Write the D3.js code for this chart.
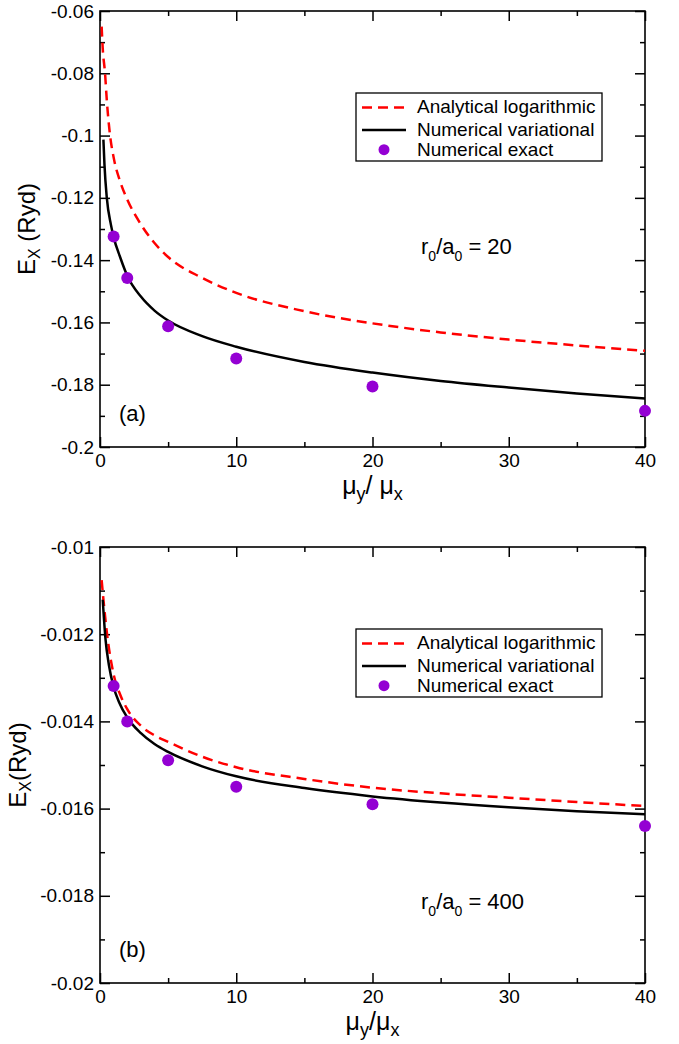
<!DOCTYPE html>
<html>
<head>
<meta charset="utf-8">
<script src="https://cdn.jsdelivr.net/npm/d3@7"></script>
<style>
  body { margin: 0; background: #fff; }
  text { font-family: "Liberation Sans", Arial, Helvetica, sans-serif; fill: #000; }
</style>
</head>
<body>
<svg id="chart" width="679" height="1044"></svg>
<script>
// ---- shared x axis (mu_y / mu_x) ----
const xMajor = [0, 10, 20, 30, 40];
const xMinor = [5, 15, 25, 35];

// ---- panel (a): r0/a0 = 20 ----
const yMajorA = [-0.2, -0.18, -0.16, -0.14, -0.12, -0.1, -0.08, -0.06];
const yLabelsA = ["-0.2", "-0.18", "-0.16", "-0.14", "-0.12", "-0.1", "-0.08", "-0.06"];
const yMinorA = [-0.19, -0.17, -0.15, -0.13, -0.11, -0.09, -0.07];

const exactX = [1, 2, 5, 10, 20, 40];
const exactA = [-0.1324, -0.1457, -0.1612, -0.1716, -0.1806, -0.1884];

const variationalXA = [0.25, 0.33, 0.5, 0.8, 1, 1.5, 2, 3, 4, 5, 7.5, 10, 15, 20, 25, 30, 35, 40];
const variationalA = [-0.1013, -0.1095, -0.1200, -0.1286, -0.1326, -0.1393, -0.1450, -0.1517, -0.1562,
  -0.1594, -0.1644, -0.1678, -0.1727, -0.1761, -0.1788, -0.1809, -0.1828, -0.1844];

const analyticXA = [0.12, 0.2, 0.37, 0.5, 0.74, 1, 1.5, 2, 3, 4, 5, 7.5, 10, 15, 20, 25, 30, 35, 40];
const analyticA = [-0.065, -0.072, -0.080, -0.0887, -0.100, -0.107, -0.1150, -0.1205, -0.1285, -0.1345,
  -0.1390, -0.1457, -0.1505, -0.1564, -0.1603, -0.1632, -0.1655, -0.1674, -0.1691];

// ---- panel (b): r0/a0 = 400 ----
const yMajorB = [-0.02, -0.018, -0.016, -0.014, -0.012, -0.01];
const yLabelsB = ["-0.02", "-0.018", "-0.016", "-0.014", "-0.012", "-0.01"];
const yMinorB = [-0.019, -0.017, -0.015, -0.013, -0.011];

const exactB = [-0.01319, -0.01400, -0.01489, -0.01550, -0.01590, -0.01640];

const variationalXB = [0.2, 0.4, 0.65, 1, 1.4, 2, 3, 4, 5, 7.5, 10, 15, 20, 25, 30, 35, 40];
const variationalB = [-0.01121, -0.01210, -0.01270, -0.01321, -0.01356, -0.01391, -0.01427, -0.01452,
  -0.01470, -0.01503, -0.01526, -0.01553, -0.01572, -0.01586, -0.01597, -0.01606, -0.01613];

const analyticXB = [0.12, 0.25, 0.5, 1, 1.5, 2, 3, 4, 5, 7.5, 10, 15, 20, 25, 30, 35, 40];
const analyticB = [-0.01076, -0.01120, -0.01195, -0.01292, -0.01340, -0.01372, -0.01410, -0.01432,
  -0.01447, -0.01481, -0.01505, -0.01532, -0.01552, -0.01565, -0.01575, -0.01585, -0.01594];

const legendLabels = ["Analytical logarithmic", "Numerical variational", "Numerical exact"];

const RED = "#ff0000";
const VIOLET = "#9400d3";

const svg = d3.select("#chart");

const panels = [
  {
    top: 11, bottom: 447, yDomain: [-0.2, -0.06],
    yMajor: yMajorA, yLabels: yLabelsA, yMinor: yMinorA,
    exact: exactA, varX: variationalXA, varY: variationalA, anaX: analyticXA, anaY: analyticA,
    tag: "(a)", ratio: "20", ratioBaseline: 254, yTitleSep: " ", yTitleX: 35, xTitleSep: "/ "
  },
  {
    top: 547, bottom: 983, yDomain: [-0.02, -0.01],
    yMajor: yMajorB, yLabels: yLabelsB, yMinor: yMinorB,
    exact: exactB, varX: variationalXB, varY: variationalB, anaX: analyticXB, anaY: analyticB,
    tag: "(b)", ratio: "400", ratioBaseline: 909, yTitleSep: "", yTitleX: 26, xTitleSep: "/"
  }
];

const left = 100, right = 645;

panels.forEach(p => {
  const x = d3.scaleLinear().domain([0, 40]).range([left, right]);
  const y = d3.scaleLinear().domain(p.yDomain).range([p.bottom, p.top]);
  const g = svg.append("g");

  // frame
  g.append("rect")
    .attr("x", left).attr("y", p.top)
    .attr("width", right - left).attr("height", p.bottom - p.top)
    .attr("fill", "none").attr("stroke", "#000").attr("stroke-width", 1.6);

  const styleAxis = sel => {
    sel.select(".domain").remove();
    sel.selectAll(".tick line").attr("stroke", "#000").attr("stroke-width", 1.5);
    sel.selectAll(".tick text").attr("font-size", 19)
      .style("font-family", '"Liberation Sans", Arial, sans-serif');
  };

  // bottom axis with labels, ticks pointing inward
  g.append("g").attr("transform", `translate(0,${p.bottom})`)
    .call(d3.axisBottom(x).tickValues(xMajor).tickSizeInner(-10).tickSizeOuter(0).tickPadding(7)
      .tickFormat(d3.format("d")))
    .call(styleAxis);
  g.append("g").attr("transform", `translate(0,${p.bottom})`)
    .call(d3.axisBottom(x).tickValues(xMinor).tickSizeInner(-5).tickSizeOuter(0).tickFormat(""))
    .call(styleAxis);
  // top mirror ticks
  g.append("g").attr("transform", `translate(0,${p.top})`)
    .call(d3.axisTop(x).tickValues(xMajor).tickSizeInner(-10).tickSizeOuter(0).tickFormat(""))
    .call(styleAxis);
  g.append("g").attr("transform", `translate(0,${p.top})`)
    .call(d3.axisTop(x).tickValues(xMinor).tickSizeInner(-5).tickSizeOuter(0).tickFormat(""))
    .call(styleAxis);

  // left axis with labels
  g.append("g").attr("transform", `translate(${left},0)`)
    .call(d3.axisLeft(y).tickValues(p.yMajor).tickSizeInner(-10).tickSizeOuter(0).tickPadding(6)
      .tickFormat((d, i) => p.yLabels[i]))
    .call(styleAxis);
  g.append("g").attr("transform", `translate(${left},0)`)
    .call(d3.axisLeft(y).tickValues(p.yMinor).tickSizeInner(-5).tickSizeOuter(0).tickFormat(""))
    .call(styleAxis);
  // right mirror ticks
  g.append("g").attr("transform", `translate(${right},0)`)
    .call(d3.axisRight(y).tickValues(p.yMajor).tickSizeInner(-10).tickSizeOuter(0).tickFormat(""))
    .call(styleAxis);
  g.append("g").attr("transform", `translate(${right},0)`)
    .call(d3.axisRight(y).tickValues(p.yMinor).tickSizeInner(-5).tickSizeOuter(0).tickFormat(""))
    .call(styleAxis);

  // curves
  const line = d3.line().x(d => x(d[0])).y(d => y(d[1])).curve(d3.curveMonotoneX);
  g.append("path")
    .datum(d3.zip(p.anaX, p.anaY))
    .attr("d", line).attr("fill", "none")
    .attr("stroke", RED).attr("stroke-width", 2.5).attr("stroke-dasharray", "10,6");
  g.append("path")
    .datum(d3.zip(p.varX, p.varY))
    .attr("d", line).attr("fill", "none")
    .attr("stroke", "#000").attr("stroke-width", 2.5);

  // exact points
  g.selectAll("circle.exact")
    .data(d3.zip(exactX, p.exact))
    .join("circle").attr("class", "exact")
    .attr("cx", d => x(d[0])).attr("cy", d => y(d[1])).attr("r", 6)
    .attr("fill", VIOLET);

  // legend
  const lx = 356, ly = p.top + 82;
  const lg = g.append("g").attr("transform", `translate(${lx},${ly})`);
  lg.append("rect").attr("x", 0).attr("y", 0).attr("width", 246).attr("height", 68)
    .attr("fill", "#fff").attr("stroke", "#000").attr("stroke-width", 1.3);
  const rows = [19.5, 43, 62.7];
  lg.append("line").attr("x1", 6).attr("x2", 50).attr("y1", rows[0] - 5).attr("y2", rows[0] - 5)
    .attr("stroke", RED).attr("stroke-width", 2.5).attr("stroke-dasharray", "10,6");
  lg.append("line").attr("x1", 6).attr("x2", 50).attr("y1", rows[1] - 6).attr("y2", rows[1] - 6)
    .attr("stroke", "#000").attr("stroke-width", 2.5);
  lg.append("circle").attr("cx", 28).attr("cy", rows[2] - 6).attr("r", 5.5).attr("fill", VIOLET);
  legendLabels.forEach((t, i) => {
    lg.append("text").attr("x", 61).attr("y", rows[i]).attr("font-size", 19).text(t);
  });

  // r0/a0 annotation
  const rt = g.append("text").attr("x", 421).attr("y", p.ratioBaseline).attr("font-size", 22);
  rt.append("tspan").text("r");
  rt.append("tspan").attr("font-size", 14).attr("dy", 7).text("0");
  rt.append("tspan").attr("dy", -7).text("/a");
  rt.append("tspan").attr("font-size", 14).attr("dy", 7).text("0");
  rt.append("tspan").attr("dy", -7).text(" = " + p.ratio);

  // panel tag
  g.append("text").attr("x", 119).attr("y", p.bottom - 26).attr("font-size", 22).text(p.tag);

  // x axis title
  const xt = g.append("text").attr("x", (left + right) / 2).attr("y", p.bottom + 47)
    .attr("text-anchor", "middle").attr("font-size", 25);
  xt.append("tspan").text("\u03bc");
  xt.append("tspan").attr("font-size", 18).attr("dy", 6).text("y");
  xt.append("tspan").attr("dy", -6).text(p.xTitleSep + "\u03bc");
  xt.append("tspan").attr("font-size", 18).attr("dy", 6).text("x");

  // y axis title
  const yt = g.append("text")
    .attr("transform", `translate(${p.yTitleX},${(p.top + p.bottom) / 2}) rotate(-90)`)
    .attr("text-anchor", "middle").attr("font-size", 24);
  yt.append("tspan").text("E");
  yt.append("tspan").attr("font-size", 16).attr("dy", 5).text("X");
  yt.append("tspan").attr("dy", -5).text(p.yTitleSep + "(Ryd)");
});
</script>
</body>
</html>
